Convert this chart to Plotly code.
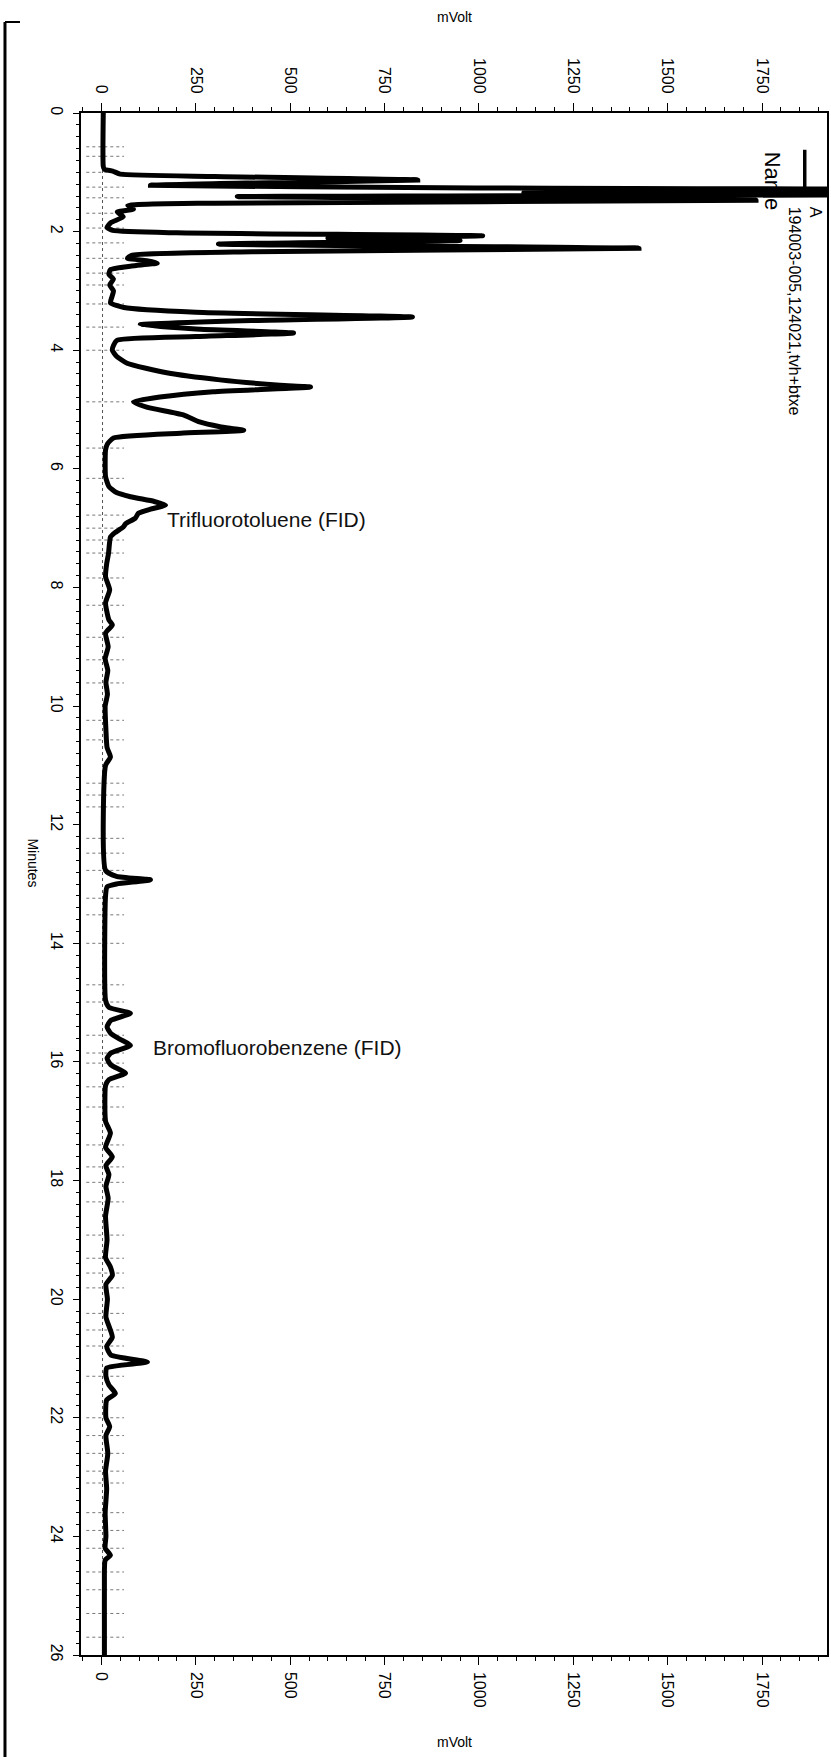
import plotly.graph_objects as go

# ---- data ----
minutes = [0.0, 0.90, 0.95, 0.98, 1.03, 1.07, 1.13, 1.18, 1.22, 1.26, 1.30, 1.34, 1.37, 1.41, 1.47,
           1.52, 1.56, 1.62, 1.67, 1.75, 1.85, 1.93, 1.98, 2.02, 2.07, 2.11, 2.15, 2.21, 2.28, 2.34,
           2.40, 2.45, 2.49, 2.53, 2.58, 2.64, 2.72, 2.80, 2.90, 3.00, 3.10, 3.20, 3.28, 3.36, 3.44,
           3.50, 3.57, 3.64, 3.71, 3.77, 3.83, 3.92, 4.00, 4.10, 4.22, 4.38, 4.50, 4.59, 4.62, 4.70,
           4.79, 4.87, 4.96, 5.09, 5.21, 5.29, 5.35, 5.40, 5.48, 5.58, 5.68, 6.13, 6.30, 6.40, 6.47,
           6.55, 6.61, 6.68, 6.75, 6.83, 6.92, 6.98, 7.08, 7.15, 7.42, 7.60, 7.82, 8.04, 8.26, 8.55,
           8.63, 8.77, 9.0, 9.2, 9.4, 9.6, 9.8, 10.0, 10.4, 10.7, 10.86, 11.0, 12.77, 12.87, 12.93,
           13.0, 13.05, 13.2, 14.96, 15.08, 15.18, 15.30, 15.41, 15.52, 15.62, 15.72, 15.85, 15.94,
           16.05, 16.19, 16.30, 16.40, 17.0, 17.2, 17.44, 17.6, 17.75, 17.9, 18.1, 18.3, 18.6, 19.0,
           19.3, 19.46, 19.6, 19.75, 20.0, 20.3, 20.64, 20.8, 20.94, 21.06, 21.16, 21.3, 21.45, 21.59,
           21.7, 22.0, 22.15, 22.3, 22.6, 22.9, 23.2, 23.6, 24.0, 24.2, 24.32, 24.4, 24.8, 25.5, 26.0]
mvolt = [5, 5, 8, 30, 50, 300, 838, 400, 130, 900, 2600, 1119, 2600, 360, 1734,
         300, 70, 85, 42, 58, 25, 15, 30, 200, 1010, 600, 950, 310, 1424, 400,
         80, 69, 120, 148, 80, 24, 20, 32, 22, 32, 28, 24, 60, 250, 824,
         400, 103, 250, 509, 250, 42, 32, 29, 40, 68, 173, 314, 473, 554, 296,
         155, 85, 120, 217, 260, 314, 377, 210, 32, 16, 11, 11, 20, 40, 77,
         140, 170, 130, 98, 90, 65, 58, 35, 24, 19, 14, 11, 22, 11, 20,
         29, 11, 18, 10, 17, 12, 16, 10, 12, 15, 24, 11, 11, 40, 130,
         40, 15, 11, 11, 20, 77, 25, 15, 25, 50, 77, 25, 15,
         25, 64, 20, 11, 11, 24, 11, 29, 12, 20, 12, 18, 11, 15,
         11, 24, 29, 12, 16, 12, 29, 14, 25, 122, 14, 12, 20, 37,
         14, 12, 22, 12, 17, 11, 14, 10, 12, 10, 24, 10, 8, 8, 8]

# integration event marks (minutes)
event_times = [0.57, 0.73, 1.0, 1.25, 1.43, 1.69, 1.94, 2.19, 2.45, 2.7, 2.9, 3.22, 3.61, 4.0,
               4.87, 5.65, 6.16, 6.78, 7.0, 7.2, 7.42, 7.84, 8.3, 8.84, 9.22, 9.61, 10.24, 10.57,
               11.3, 11.5, 11.7, 12.23, 12.48, 12.77, 13.24, 13.52, 14.0, 14.7, 14.99, 15.55,
               15.85, 16.02, 16.42, 16.76, 17.4, 17.77, 18.03, 18.36, 18.92, 19.31, 19.56, 19.81,
               20.24, 20.52, 20.79, 21.3, 22.0, 22.3, 22.6, 22.9, 23.1, 23.6, 23.9, 24.2, 24.6,
               24.9, 25.3, 25.7]

mv_ticks = [0, 250, 500, 750, 1000, 1250, 1500, 1750]
min_ticks = list(range(0, 27, 2))

peak_labels = ["Trifluorotoluene (FID)", "Bromofluorobenzene (FID)"]
peak_label_pos = [(170, 6.86), (135, 15.75)]
series_name = "194003-005,124021,tvh+btxe"

MV_RANGE = [-54, 1922]
MIN_RANGE = [26, 0]
EV_LEFT, EV_RIGHT = -40, 60
FONT = "Liberation Sans, Arial, sans-serif"

ev_x, ev_y = [], []
for t in event_times:
    ev_x += [EV_LEFT, EV_RIGHT, None]
    ev_y += [t, t, None]

fig = go.Figure()
fig.add_trace(go.Scatter(x=ev_x, y=ev_y, mode="lines",
                         line=dict(color="#777777", width=1, dash="dot"),
                         hoverinfo="skip", showlegend=False))
fig.add_trace(go.Scatter(x=mvolt, y=minutes, mode="lines", name="A",
                         line=dict(color="black", width=5, shape="spline", smoothing=0.5),
                         showlegend=False))
fig.add_trace(go.Scatter(x=[], y=[], xaxis="x2", yaxis="y", showlegend=False, hoverinfo="skip"))

axis_common = dict(range=MV_RANGE, tickmode="array", tickvals=mv_ticks,
                   ticktext=[str(v) for v in mv_ticks],
                   ticks="outside", ticklen=8, tickwidth=1.2, tickcolor="black",
                   tickangle=90, tickfont=dict(family=FONT, size=16, color="black"),
                   showline=True, linecolor="black", linewidth=1.5, automargin=False,
                   showgrid=False, zeroline=False, ticklabelstandoff=4,
                   minor=dict(dtick=50, tick0=0, ticks="outside", ticklen=4,
                              tickcolor="black", tickwidth=1))

fig.update_layout(
    width=831, height=1757,
    margin=dict(l=81, r=4, t=113, b=102, autoexpand=False),
    paper_bgcolor="white", plot_bgcolor="white",
    font=dict(family=FONT, color="black"),
    xaxis=dict(side="top", **axis_common),
    xaxis2=dict(side="bottom", overlaying="x", anchor="y", **axis_common),
    yaxis=dict(range=MIN_RANGE, tickmode="array", tickvals=min_ticks,
               ticks="outside", ticklen=6, tickwidth=1.2, tickcolor="black",
               tickangle=90, tickfont=dict(family=FONT, size=16, color="black"),
               showline=True, mirror=True, linecolor="black", linewidth=1.5,
               automargin=False,
               showgrid=False, zeroline=False, ticklabelstandoff=3,
               minor=dict(dtick=0.2, ticks="outside", ticklen=3, tickcolor="black",
                          tickwidth=1)),
)

# baseline (zero) dotted line
fig.add_shape(type="line", xref="x", yref="paper", x0=3, x1=3, y0=0, y1=1,
              line=dict(color="#555555", width=1, dash="dot"), layer="below")

# axis titles
fig.add_annotation(text="mVolt", xref="paper", yref="paper", x=0.5, y=1.0623,
                   xanchor="center", yanchor="middle",
                   showarrow=False, font=dict(size=14, family=FONT))
fig.add_annotation(text="mVolt", xref="paper", yref="paper", x=0.5, y=-0.0564,
                   xanchor="center", yanchor="middle",
                   showarrow=False, font=dict(size=14, family=FONT))
fig.add_annotation(text="Minutes", xref="paper", yref="paper", x=-0.0643, y=0.514,
                   xanchor="center", yanchor="middle",
                   textangle=90, showarrow=False, font=dict(size=14, family=FONT))

# peak labels
for lab, (px, py) in zip(peak_labels, peak_label_pos):
    fig.add_annotation(text=lab, x=px, y=py, xref="x", yref="y", xanchor="left",
                       yanchor="middle", showarrow=False, borderpad=0,
                       font=dict(size=21, family=FONT, color="#111111"))

# legend block (rotated like the page)
fig.add_annotation(text="Name", x=1778, y=0.62, xref="x", yref="y", xanchor="center",
                   yanchor="top", textangle=90, showarrow=False,
                   font=dict(size=22, family=FONT))
fig.add_annotation(text="A<br>" + series_name, x=1863, y=1.55, xref="x", yref="y",
                   xanchor="center", yanchor="top", align="left", textangle=90,
                   showarrow=False, font=dict(size=16, family=FONT))
fig.add_shape(type="line", xref="x", yref="y", x0=1863, x1=1863, y0=0.62, y1=1.25,
              line=dict(color="black", width=3.5))

# scanned page border on the left
fig.add_shape(type="line", xref="paper", yref="paper", x0=-0.1019, x1=-0.1019,
              y0=-0.07, y1=1.059, line=dict(color="black", width=3))
fig.add_shape(type="line", xref="paper", yref="paper", x0=-0.1019, x1=-0.0818,
              y0=1.059, y1=1.059, line=dict(color="black", width=2))

fig.write_html("out.html", config={"displayModeBar": False},
               post_script="document.body.style.margin='0';document.body.style.padding='0';"
                           "document.body.style.overflow='hidden';")
